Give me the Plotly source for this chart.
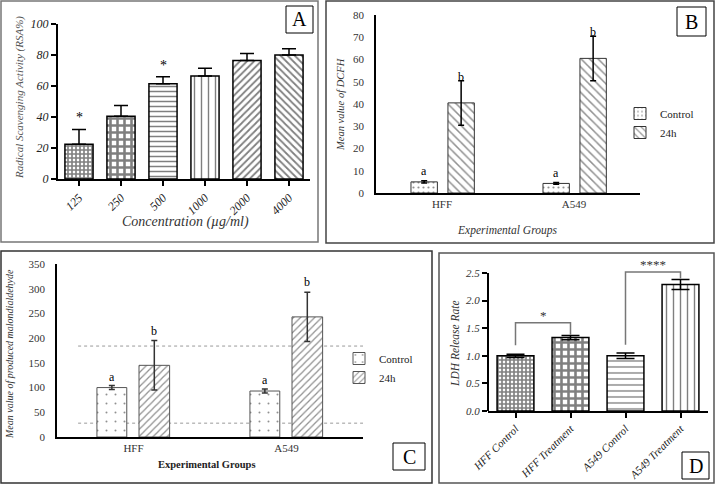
import plotly.graph_objects as go

W, H = 715, 487
SERIF = "Liberation Serif"

def px(x):
    return x / W

def py(y):
    return 1 - y / H

# ---------------- data ----------------
# Panel A
conc_labels = ["125", "250", "500", "1000", "2000", "4000"]
rsa_values = [22.5, 40.5, 61.5, 66.5, 76.5, 80.0]
rsa_err = [9.5, 7.0, 4.5, 5.0, 4.5, 4.0]
rsa_stars = ["*", "", "*", "", "", ""]

# Panel B
groups = ["HFF", "A549"]
dcfh_control = [5.0, 4.3]
dcfh_control_err = [0.5, 0.4]
dcfh_24h = [40.5, 60.5]
dcfh_24h_err = [10.0, 10.0]

# Panel C
mda_control = [100.0, 93.0]
mda_control_err = [4.0, 4.0]
mda_24h = [145.0, 243.0]
mda_24h_err = [50.0, 50.0]
ref_lines_c = [184.0, 28.0]

# Panel D
ldh_labels = ["HFF Control", "HFF Treatment", "A549 Control", "A549 Treatment"]
ldh_values = [1.00, 1.33, 1.00, 2.29]
ldh_err = [0.03, 0.04, 0.05, 0.09]
# brackets: (left cat, right cat, bar y, left leg bottom, right leg bottom, label)
ldh_brackets = [
    ("HFF Control", "HFF Treatment", 1.60, 1.19, 1.38, "*"),
    ("A549 Control", "A549 Treatment", 2.52, 1.20, 2.40, "****"),
]
LDH_TOP = 2.5
LDH_RANGE_TOP = 2.7

fig = go.Figure()

# ---------------- Panel A ----------------
fig.add_trace(go.Bar(
    x=conc_labels, y=rsa_values, xaxis="x", yaxis="y", width=0.67,
    error_y=dict(type="data", symmetric=False, array=rsa_err,
                 arrayminus=[0] * len(rsa_err), color="black", thickness=1.5, width=7),
    marker=dict(color="white", line=dict(color="black", width=1.5),
                pattern=dict(shape=["+", "+", "-", "|", "/", "\\"],
                             size=[4, 7, 5, 7, 5, 5],
                             solidity=[0.65, 0.6, 0.3, 0.2, 0.35, 0.35],
                             fgcolor="black", bgcolor="white")),
    showlegend=False,
))

# ---------------- Panel B ----------------
fig.add_trace(go.Bar(
    x=groups, y=dcfh_control, xaxis="x2", yaxis="y2", name="Control",
    width=0.2, offset=-0.235,
    error_y=dict(type="data", array=dcfh_control_err, color="black", thickness=1.5, width=3),
    marker=dict(color="white", line=dict(color="#333", width=1),
                pattern=dict(shape=".", size=5, solidity=0.15, fgcolor="#222", bgcolor="white")),
    legend="legend",
))
fig.add_trace(go.Bar(
    x=groups, y=dcfh_24h, xaxis="x2", yaxis="y2", name="24h",
    width=0.2, offset=0.045,
    error_y=dict(type="data", array=dcfh_24h_err, color="black", thickness=1.5, width=3),
    marker=dict(color="white", line=dict(color="#333", width=1),
                pattern=dict(shape="\\", size=6, solidity=0.25, fgcolor="#222", bgcolor="white")),
    legend="legend",
))

# ---------------- Panel C ----------------
fig.add_trace(go.Bar(
    x=groups, y=mda_control, xaxis="x3", yaxis="y3", name="Control",
    width=0.195, offset=-0.239,
    error_y=dict(type="data", array=mda_control_err, color="#333", thickness=1.5, width=3),
    marker=dict(color="white", line=dict(color="#555", width=1),
                pattern=dict(shape=".", size=9, solidity=0.04, fgcolor="#222", bgcolor="white")),
    legend="legend2",
))
fig.add_trace(go.Bar(
    x=groups, y=mda_24h, xaxis="x3", yaxis="y3", name="24h",
    width=0.2, offset=0.036,
    error_y=dict(type="data", array=mda_24h_err, color="#333", thickness=1.5, width=3),
    marker=dict(color="white", line=dict(color="#555", width=1),
                pattern=dict(shape="/", size=5, solidity=0.25, fgcolor="#222", bgcolor="white")),
    legend="legend2",
))

# ---------------- Panel D ----------------
fig.add_trace(go.Bar(
    x=ldh_labels, y=ldh_values, xaxis="x4", yaxis="y4", width=0.67,
    error_y=dict(type="data", array=ldh_err, color="black", thickness=1.5, width=9),
    marker=dict(color="white", line=dict(color="black", width=1.5),
                pattern=dict(shape=["+", "+", "-", "|"], size=[4, 7, 6, 7],
                             solidity=[0.65, 0.6, 0.22, 0.2],
                             fgcolor="black", bgcolor="white")),
    showlegend=False,
))
for lcat, rcat, ybar, yl, yr, lab in ldh_brackets:
    fig.add_trace(go.Scatter(
        x=[lcat, lcat, rcat, rcat], y=[yl, ybar, ybar, yr], xaxis="x4", yaxis="y4",
        mode="lines", line=dict(color="#777", width=1.5), showlegend=False, hoverinfo="skip",
    ))

annotations = []
shapes = []

# stars panel A
for i, s in enumerate(rsa_stars):
    if s:
        annotations.append(dict(x=i, y=rsa_values[i] + rsa_err[i], xref="x", yref="y",
                                text=s, showarrow=False, yanchor="bottom", yshift=2,
                                font=dict(family=SERIF, size=14, color="black")))

# letters panel B
for i in range(len(groups)):
    annotations.append(dict(x=i - 0.135, y=dcfh_control[i] + dcfh_control_err[i], xref="x2", yref="y2",
                            text="a", showarrow=False, yanchor="bottom", yshift=1,
                            font=dict(family=SERIF, size=12, color="black")))
    annotations.append(dict(x=i + 0.145, y=dcfh_24h[i] + dcfh_24h_err[i], xref="x2", yref="y2",
                            text="b", showarrow=False, yanchor="middle", yshift=4,
                            font=dict(family=SERIF, size=12, color="black")))

# letters panel C
for i in range(len(groups)):
    annotations.append(dict(x=i - 0.1415, y=mda_control[i] + mda_control_err[i], xref="x3", yref="y3",
                            text="a", showarrow=False, yanchor="bottom", yshift=0,
                            font=dict(family=SERIF, size=12, color="black")))
    annotations.append(dict(x=i + 0.136, y=mda_24h[i] + mda_24h_err[i], xref="x3", yref="y3",
                            text="b", showarrow=False, yanchor="bottom", yshift=1,
                            font=dict(family=SERIF, size=12, color="black")))

# dotted reference lines panel C
for v in ref_lines_c:
    shapes.append(dict(type="line", xref="x3 domain", yref="y3", x0=0.069, x1=1.0, y0=v, y1=v,
                       line=dict(color="#999", width=1, dash="dot"), layer="below"))

# bracket labels panel D
for lcat, rcat, ybar, yl, yr, lab in ldh_brackets:
    li = ldh_labels.index(lcat)
    ri = ldh_labels.index(rcat)
    annotations.append(dict(x=(li + ri) / 2, y=ybar, xref="x4", yref="y4", text=lab,
                            showarrow=False, yanchor="bottom", yshift=-2,
                            font=dict(family=SERIF, size=13, color="#333")))

# panel D y-axis line drawn only up to the last tick
shapes.append(dict(type="line", xref="x4 domain", yref="y4", x0=0, x1=0, y0=0, y1=LDH_TOP,
                   line=dict(color="black", width=2)))

# panel frames
frames = [(1, 1, 318, 242, "#777"), (326, 1, 714, 243, "#444"),
          (1, 251, 432, 483, "#333"), (439, 253, 714, 483, "#555")]
for x0, y0, x1, y1, c in frames:
    shapes.append(dict(type="rect", xref="paper", yref="paper",
                       x0=px(x0), x1=px(x1), y0=py(y1), y1=py(y0),
                       line=dict(color=c, width=1.5), fillcolor="rgba(0,0,0,0)"))

# letter boxes
boxes = [("A", 286, 6, 313, 33), ("B", 677, 7, 706, 36), ("C", 393, 443, 425, 470), ("D", 682, 452, 709, 479)]
for lab, x0, y0, x1, y1 in boxes:
    shapes.append(dict(type="rect", xref="paper", yref="paper",
                       x0=px(x0), x1=px(x1), y0=py(y1), y1=py(y0),
                       line=dict(color="black", width=1), fillcolor="white"))
    annotations.append(dict(x=px((x0 + x1) / 2), y=py((y0 + y1) / 2), xref="paper", yref="paper",
                            text=lab, showarrow=False, xanchor="center", yanchor="middle",
                            font=dict(family=SERIF, size=20, color="black")))

# axis titles
def title_ann(text, x, y, size, angle=0, italic=True, bold=False, color="#333"):
    annotations.append(dict(x=px(x), y=py(y), xref="paper", yref="paper", text=text,
                            showarrow=False, textangle=angle, xanchor="center", yanchor="middle",
                            font=dict(family=SERIF, size=size, color=color,
                                      style="italic" if italic else "normal",
                                      weight="bold" if bold else "normal")))

title_ann("Radical Scavenging Activity (RSA%)", 20, 98, 11, -90, color="#555")
title_ann("Concentration (µg/ml)", 185, 222, 14)
title_ann("Mean value of DCFH", 340, 104, 10.5, -90)
title_ann("Experimental Groups", 507, 230, 11.5)
title_ann("Mean value of produced malondialdehyde", 9, 354, 10, -90)
title_ann("Experimental Groups", 207, 464, 10.5, italic=False, bold=True, color="#222")
title_ann("LDH Release Rate", 455, 344, 11.5, -90)

def ax_common(**kw):
    d = dict(showline=True, linecolor="black", showgrid=False, zeroline=False, fixedrange=True)
    d.update(kw)
    return d

italic12 = dict(family=SERIF, size=12, color="#222", style="italic")
plain11 = dict(family=SERIF, size=11, color="#333")

# panel D y domain: 0 at px 411, 2.5 at px 273 -> extend top so range can hold the bracket
d_bottom, d_top25 = 411, 273
d_top = d_bottom - (d_bottom - d_top25) * LDH_RANGE_TOP / LDH_TOP

fig.update_layout(
    width=W, height=H, margin=dict(l=0, r=0, t=0, b=0, autoexpand=False),
    paper_bgcolor="white", plot_bgcolor="rgba(0,0,0,0)",
    barmode="overlay",
    xaxis=ax_common(domain=[px(58), px(310)], anchor="y", linewidth=2, ticks="outside",
                    ticklen=5, tickwidth=1.5, tickcolor="black", tickangle=-45, tickfont=italic12),
    yaxis=ax_common(domain=[py(179), py(24)], anchor="x", range=[0, 100], dtick=20, linewidth=2,
                    ticks="outside", ticklen=5, tickwidth=1.5, tickcolor="black", tickfont=italic12),
    xaxis2=ax_common(domain=[px(376), px(640)], anchor="y2", linewidth=1.5, ticks="", tickfont=plain11),
    yaxis2=ax_common(domain=[py(193), py(15)], anchor="x2", range=[0, 80], dtick=10, linewidth=1.5,
                     ticks="outside", ticklen=8, tickcolor="rgba(0,0,0,0)", tickfont=plain11),
    xaxis3=ax_common(domain=[px(57), px(363)], anchor="y3", linewidth=1.5, ticks="", tickfont=plain11),
    yaxis3=ax_common(domain=[py(437), py(264)], anchor="x3", range=[0, 350], dtick=50, linewidth=1.5,
                     ticks="outside", ticklen=8, tickcolor="rgba(0,0,0,0)", tickfont=plain11),
    xaxis4=ax_common(domain=[px(488), px(708)], anchor="y4", linewidth=2, ticks="outside",
                     ticklen=5, tickwidth=1.5, tickcolor="black", tickangle=-45,
                     tickfont=dict(family=SERIF, size=11, color="#222", style="italic")),
    yaxis4=ax_common(domain=[py(d_bottom), py(d_top)], anchor="x4", range=[0, LDH_RANGE_TOP],
                     tickvals=[0, 0.5, 1.0, 1.5, 2.0, 2.5], tickformat=".1f", showline=False,
                     ticks="outside", ticklen=5, tickwidth=1.5, tickcolor="black",
                     tickfont=dict(family=SERIF, size=11, color="#333", style="italic")),
    legend=dict(x=px(620), y=py(99), xanchor="left", yanchor="top", bgcolor="rgba(0,0,0,0)",
                font=dict(family=SERIF, size=11, color="#222"), itemwidth=30, tracegroupgap=0),
    legend2=dict(x=px(339), y=py(344), xanchor="left", yanchor="top", bgcolor="rgba(0,0,0,0)",
                 font=dict(family=SERIF, size=11, color="#222"), itemwidth=30, tracegroupgap=0),
    annotations=annotations,
    shapes=shapes,
)

# remove the page's default body margin so the 715x487 figure fills the window exactly
fig.write_html("out.html",
               config={"displayModeBar": False},
               post_script="document.body.style.margin='0px';document.body.style.overflow='hidden';")
